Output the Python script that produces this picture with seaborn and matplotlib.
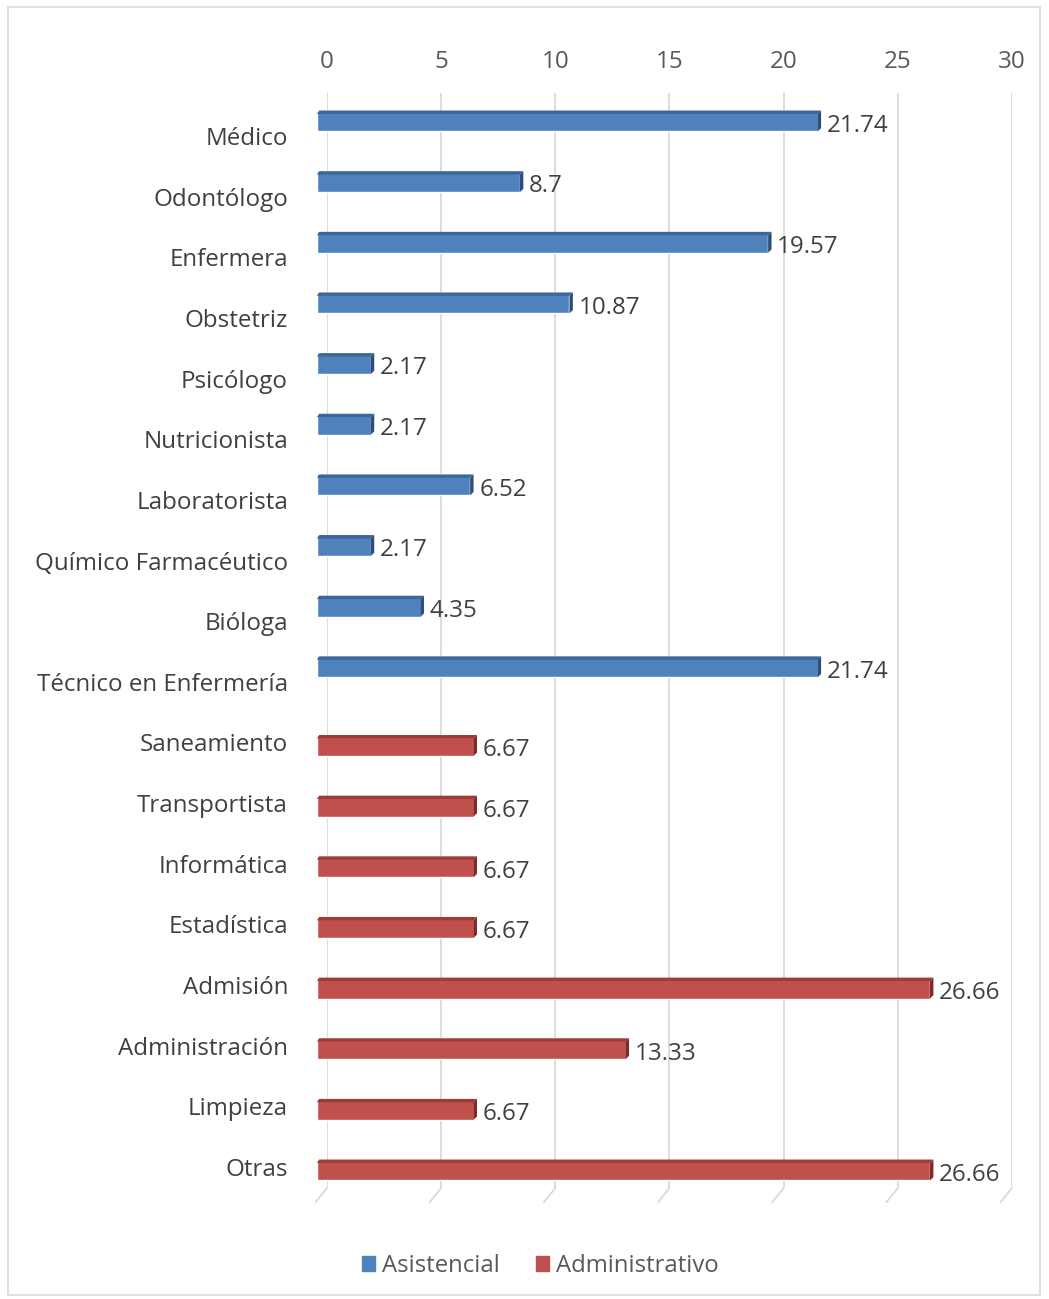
import pandas as pd
import matplotlib.pyplot as plt
import matplotlib.transforms as mtransforms
from matplotlib.patches import Polygon, Rectangle
import seaborn as sns

# datos
categorias = ["Médico", "Odontólogo", "Enfermera", "Obstetriz", "Psicólogo",
              "Nutricionista", "Laboratorista", "Químico Farmacéutico", "Bióloga",
              "Técnico en Enfermería", "Saneamiento", "Transportista", "Informática",
              "Estadística", "Admisión", "Administración", "Limpieza", "Otras"]
valores = [21.74, 8.7, 19.57, 10.87, 2.17, 2.17, 6.52, 2.17, 4.35, 21.74,
           6.67, 6.67, 6.67, 6.67, 26.66, 13.33, 6.67, 26.66]
grupos = ["Asistencial"] * 10 + ["Administrativo"] * 8
etiquetas = ["21.74", "8.7", "19.57", "10.87", "2.17", "2.17", "6.52", "2.17", "4.35",
             "21.74", "6.67", "6.67", "6.67", "6.67", "26.66", "13.33", "6.67", "26.66"]
series = ["Asistencial", "Administrativo"]

colores = {"Asistencial": "#4F81BD", "Administrativo": "#C0504D"}
oscuros = {"Asistencial": "#3A6699", "Administrativo": "#9E3B38"}
lados = {"Asistencial": "#2B4F7A", "Administrativo": "#7E2A28"}

df = pd.DataFrame({"cat": categorias, "val": valores, "grupo": grupos})

sns.set_style("white")
plt.rcParams['font.family'] = ['Open Sans', 'DejaVu Sans']

fig = plt.figure(figsize=(10.49, 12.99), dpi=100)
ax = fig.add_axes([0.3117, 1 - 1188 / 1299, 0.653, 1095 / 1299])

# barras agrupadas como en Excel: cada serie ocupa su propio hueco
sns.barplot(data=df, x="val", y="cat", hue="grupo", hue_order=series, orient="h",
            dodge=True, palette=colores, width=0.594, ax=ax, legend=False, saturation=1)

ax.set_xlim(0, 30)
ax.set_ylim(17.445, -0.61)
ax.set_xticks(range(0, 31, 5))
ax.xaxis.tick_top()
ax.tick_params(axis="x", length=0, pad=14, labelsize=17.4, labelcolor="#595959")
ax.tick_params(axis="y", length=0, pad=28, labelsize=17.4, labelcolor="#404040")
ax.grid(axis="x", color="#d9d9d9", linewidth=1.3)
ax.set_axisbelow(True)
for s in ax.spines.values():
    s.set_visible(False)
ax.set_xlabel("")
ax.set_ylabel("")

off = mtransforms.ScaledTranslation(0, -6 / 100, fig.dpi_scale_trans)
for lab in ax.get_yticklabels():
    lab.set_transform(lab.get_transform() + off)

# pequeños trazos oblicuos del piso 3D
tr = mtransforms.blended_transform_factory(ax.transData, ax.transAxes)
for v in range(0, 31, 5):
    ax.plot([v, v - 0.5], [0, -0.013], transform=tr, color="#d9d9d9",
            lw=1.3, clip_on=False, zorder=0)

# efecto 3D y etiquetas de valor
barras = sorted([p for p in ax.patches if p.get_width() > 0],
                key=lambda p: p.get_y())
sx = 0.44
dx = 0.15
alto = 0.345
for p, g, t in zip(barras, grupos, etiquetas):
    x0, w = p.get_x(), p.get_width()
    yc = p.get_y() + p.get_height() / 2
    y0, h = yc - alto / 2, alto
    dy = h * 0.16
    xs = x0 - sx
    xe = x0 + w - 0.25
    p.set_bounds(xs, y0, xe - xs, h)
    p.set_clip_on(False)
    ax.add_patch(Polygon([(xs, y0 + dy), (xs + 0.1, y0), (xe + dx, y0), (xe, y0 + dy)],
                         closed=True, color=oscuros[g], lw=0, zorder=3, clip_on=False))
    ax.add_patch(Polygon([(xe, y0 + dy), (xe + dx, y0), (xe + dx, y0 + h - dy),
                          (xe, y0 + h)], closed=True, color=lados[g], lw=0, zorder=3,
                         clip_on=False))
    ax.text(xe + 0.4, yc + 0.08, t, va="center", ha="left",
            fontsize=17.4, color="#404040")

# leyenda
handles = [Rectangle((0, 0), 1, 1, color=colores[k]) for k in series]
fig.legend(handles, series, loc="center",
           bbox_to_anchor=(0.515, 1 - 1266 / 1299), ncol=2, frameon=False,
           fontsize=17.2, handlelength=0.55, handleheight=0.55, handletextpad=0.3,
           columnspacing=1.5, labelcolor="#595959")

# borde exterior
fig.patches.append(Rectangle((8 / 1049, 4 / 1299), 1032 / 1049, 1288 / 1299,
                             transform=fig.transFigure, fill=False,
                             edgecolor="#d9d9d9", lw=1.2))

fig.savefig("out.png", dpi=100)
